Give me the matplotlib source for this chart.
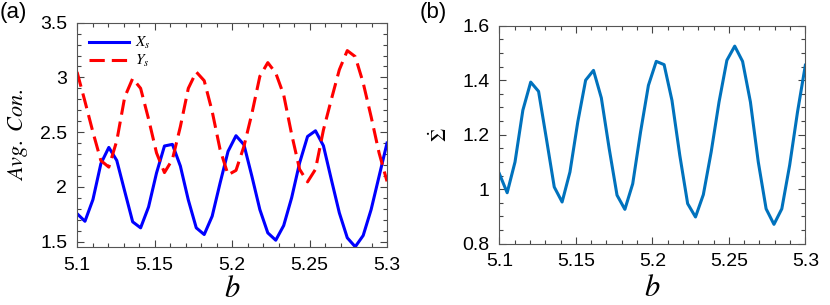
#import libraries
import numpy as np
import matplotlib
matplotlib.use("Agg")
import matplotlib.pyplot as plt
from matplotlib.ticker import MultipleLocator, FormatStrFormatter

plt.rcParams["font.family"] = ["Liberation Sans", "DejaVu Sans"]
plt.rcParams["mathtext.fontset"] = "stix"

# b values (40 samples between 5.1 and 5.3)
b = np.linspace(5.1, 5.3, 40)

# panel (a) average concentrations
xs = [1.755, 1.685, 1.883, 2.211, 2.36, 2.241, 1.959, 1.68, 1.625, 1.816,
      2.126, 2.373, 2.388, 2.19, 1.88, 1.625, 1.564, 1.731, 2.035, 2.324,
      2.467, 2.385, 2.096, 1.792, 1.579, 1.512, 1.646, 1.90, 2.218, 2.46,
      2.512, 2.375, 2.065, 1.762, 1.534, 1.452, 1.555, 1.792, 2.096, 2.40]
ys = [3.05, 2.78, 2.50, 2.24, 2.18, 2.42, 2.82, 2.99, 2.90, 2.62,
      2.31, 2.13, 2.25, 2.55, 2.90, 3.05, 2.97, 2.69, 2.34, 2.11,
      2.15, 2.37, 2.67, 3.01, 3.135, 3.04, 2.84, 2.48, 2.16, 2.045,
      2.16, 2.52, 2.80, 3.07, 3.245, 3.19, 2.95, 2.64, 2.31, 2.05]

# panel (b) sigma dot
sigma_dot = [1.057, 0.987, 1.10, 1.29, 1.393, 1.359, 1.185, 1.008, 0.953, 1.063,
             1.247, 1.40, 1.436, 1.335, 1.149, 0.978, 0.926, 1.02, 1.21, 1.381,
             1.469, 1.457, 1.326, 1.124, 0.947, 0.898, 0.98, 1.137, 1.32, 1.473,
             1.525, 1.469, 1.32, 1.10, 0.928, 0.871, 0.928, 1.088, 1.283, 1.455]

fig = plt.figure(figsize=(8.3, 3.05), dpi=100)
ax1 = fig.add_axes([0.0928, 0.1902, 0.3735, 0.7354])
ax2 = fig.add_axes([0.6016, 0.201, 0.3687, 0.7148])

# common axis style: ticks inside on all sides
for ax in (ax1, ax2):
    ax.set_xlim(5.1, 5.3)
    ax.xaxis.set_major_locator(MultipleLocator(0.05))
    ax.xaxis.set_minor_locator(MultipleLocator(0.01))
    ax.xaxis.set_major_formatter(FormatStrFormatter("%g"))
    ax.yaxis.set_major_formatter(FormatStrFormatter("%g"))
    ax.tick_params(which="both", direction="in", top=True, right=True,
                   colors="#444444", labelcolor="black", labelsize=14, width=0.8)
    ax.tick_params(which="major", length=5, pad=7)
    ax.tick_params(which="minor", length=3)
    for s in ax.spines.values():
        s.set_color("#555555")
        s.set_linewidth(0.8)

# x labels placed just above the bottom edge
ax1.set_xlabel("$b$", fontsize=22, labelpad=0.5)
ax2.set_xlabel("$b$", fontsize=22, labelpad=2)

# (a) plot
ax1.plot(b, xs, color="#0000ff", lw=2.2, label="$X_s$")
ax1.plot(b, ys, color="#ff0000", lw=2.2, ls=(0, (5, 2.3)), label="$Y_s$")
ax1.set_ylim(1.45, 3.5)
ax1.yaxis.set_major_locator(MultipleLocator(0.5))
ax1.yaxis.set_minor_locator(MultipleLocator(0.1))
ax1.set_ylabel("$Avg.\\ Con.$", fontsize=16, labelpad=7)
ax1.legend(loc="upper left", frameon=False, fontsize=11, handlelength=2.6,
           borderaxespad=0.4, labelspacing=0.15, handletextpad=0.4)

# (b) plot
ax2.plot(b, sigma_dot, color="#0072bd", lw=2.2)
ax2.set_ylim(0.8, 1.6)
ax2.yaxis.set_major_locator(MultipleLocator(0.2))
ax2.yaxis.set_minor_locator(MultipleLocator(0.05))
ax2.set_ylabel("$\\dot{\\Sigma}$", fontsize=15, labelpad=8)

# panel labels
fig.text(0.0, 0.995, "(a)", fontsize=16, va="top", ha="left")
fig.text(0.505, 0.995, "(b)", fontsize=16, va="top", ha="left")

fig.savefig("out.png", dpi=100)
